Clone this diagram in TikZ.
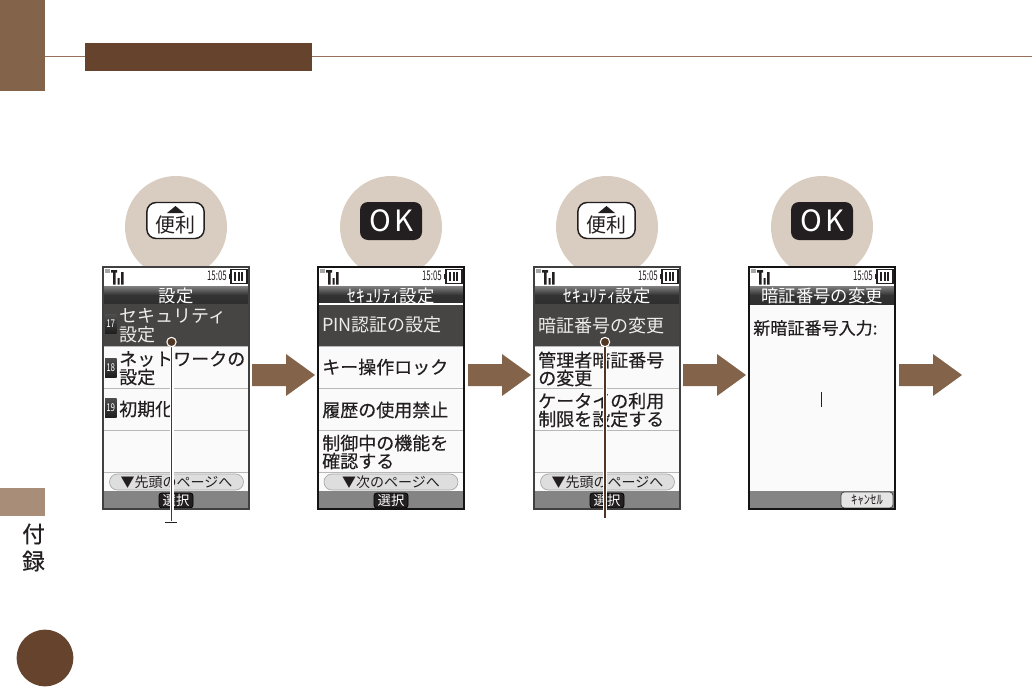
\documentclass[tikz,border=0pt]{standalone}
\usepackage{fontspec}
\usepackage{graphicx}
\setmainfont{Noto Sans CJK JP}
\newfontfamily\cjkm[FakeBold=0.35]{Noto Sans CJK JP}
\newfontfamily\cjkb[FakeBold=0.9]{Noto Sans CJK JP}
\newcommand\pxf[1]{\fontsize{#1}{#1}\selectfont}
\definecolor{tabbrown}{HTML}{836349}
\definecolor{darkbrown}{HTML}{65432D}
\definecolor{lightbrown}{HTML}{A88D78}
\definecolor{rulebrown}{HTML}{96705A}
\definecolor{disc}{HTML}{D9CCC0}
\definecolor{seldark}{HTML}{474543}
\definecolor{softgray}{HTML}{848484}
\definecolor{inktext}{HTML}{231F20}
\tikzset{
  rowtext/.style={anchor=west,inner sep=0pt,text=inktext,font=\cjkm\pxf{13.5pt}},
  seltext/.style={anchor=west,inner sep=0pt,text=white!93!black,font=\pxf{13.5pt}},
  titletext/.style={inner sep=0pt,text=white,font=\pxf{13pt}},
  pilltext/.style={inner sep=0pt,text=inktext,font=\pxf{10.5pt}},
  softbtn/.style={draw=black,fill=inktext,rounded corners=2pt,line width=.5pt,inner sep=0pt,minimum height=11.2pt,text=white,font=\pxf{10pt}},
  keydisc/.style={circle,fill=disc,inner sep=0pt,minimum size=76.5pt},
  flowarrow/.style={fill=tabbrown},
  leadhalo/.style={draw=white,line width=3pt},
  leadline/.style={draw=darkbrown!80!black,line width=1.1pt},
  leaddot/.style={circle,fill=darkbrown!80!black,draw=white,line width=.8pt,inner sep=0pt,minimum size=7pt},
}
% id, left x, title, title style, frame colour
\newcommand\phonescreen[5]{%
  \begin{scope}[shift={(#2,0)}]
    \fill[white!98!black] (0,266) rectangle (148,510);
    \fill[white] (0,266) rectangle (148,286);
    \shade[top color=black!50,bottom color=black!82,middle color=black!80] (1,286) rectangle (147,304);
    \fill[softgray] (0,491) rectangle (148,510);
    % status bar
    \fill[black!35] (3,269) rectangle (8,273);
    \fill[inktext] (9,270) rectangle (15,272.5) (11,270) rectangle (13.5,284.5) (15.5,278) rectangle (17.5,284.5) (19,272) rectangle (21.5,284.5);
    \node[inner sep=0pt,anchor=east,text=inktext,font=\pxf{9.5pt}] (#1clock) at (125,276) {\scalebox{.62}[1.05]{15:05}};
    \fill[inktext] (126.5,274) rectangle (128,279);
    \draw[inktext,line width=1pt] (129,269.5) rectangle (145,283.5);
    \foreach \bx in {132,135.5,139}{\fill[inktext] (\bx,272) rectangle (\bx+2,281);}
    \node[#4] (#1title) at (74,295.5) {#3};
  \end{scope}}
\newcommand\phoneframe[2]{%
  \draw[#2,line width=1.5pt] (#1+1,267) rectangle (#1+147,509);}
\newcommand\phonepill[3]{% id, left x, text
  \node[draw=black!35,fill=black!13,rounded corners=6pt,line width=.5pt,minimum width=100.5pt,minimum height=12pt,inner sep=0pt] (#1) at (#2+74.5,482) {};
  \node[pilltext] (#1text) at (#1) {#3};}
\newcommand\phonerows[2]{% left x, number of separators (always 4)
  \foreach \sy in {346,388,430,472}{\draw[black!28,line width=.6pt] (#1+1,\sy) -- (#1+147,\sy);}}
\newcommand\numbadge[3]{% name, y, num
  \shade[top color=black!70,bottom color=black!88] (105,#2-9.5) rectangle (116.5,#2+9.5);
  \node[inner sep=0pt,text=white,font=\pxf{8pt}] (#1) at (110.7,#2) {\scalebox{.75}[1]{#3}};}
\newcommand\flowarrowshape[1]{% left x
  \fill[flowarrow] (#1,364) -- (#1+34,364) -- (#1+34,354) -- (#1+63,375) -- (#1+34,396) -- (#1+34,386) -- (#1,386) -- cycle;}
\begin{document}
\begin{tikzpicture}[x=.75pt,y=-.75pt]
\useasboundingbox (0,0) rectangle (1032,686);
% page furniture
\fill[tabbrown] (0,0) rectangle (45,91);
\draw[rulebrown,line width=.6pt] (45,56.5) -- (1032,56.5);
\fill[darkbrown] (85,43) rectangle (312,71);
\fill[lightbrown] (0,488) rectangle (45,516);
\node[inner sep=0pt,text=inktext,font=\cjkm\pxf{17pt}] (tabA) at (33.5,534) {付};
\node[inner sep=0pt,text=inktext,font=\cjkm\pxf{17pt}] (tabB) at (33.5,561) {録};
\node[circle,fill=darkbrown,minimum size=42.5pt,inner sep=0pt] (pagedisc) at (45,658) {};
% discs
\node[keydisc] (d1) at (176,227) {};
\node[keydisc] (d2) at (391,227) {};
\node[keydisc] (d3) at (607,227) {};
\node[keydisc] (d4) at (822,227) {};
% keys
\foreach \n/\cx in {k1/175.5,k3/606.5}{
  \node[draw=inktext,fill=white,line width=1.1pt,rounded corners=7pt,minimum width=43pt,minimum height=27pt,inner sep=0pt] (\n) at (\cx,220.5) {};
  \node[inner sep=0pt,text=inktext,font=\pxf{15pt}] (\n t) at (\cx,225) {便利};
  \fill[inktext] (\cx-8.5,213) -- (\cx+8.5,213) -- (\cx,206) -- cycle;
}
\foreach \n/\cx in {k2/391,k4/822}{
  \node[fill=inktext,rounded corners=6pt,minimum width=46.5pt,minimum height=28.5pt,inner sep=0pt,text=white,font=\pxf{22pt}] (\n) at (\cx,221) {\hspace{.5pt}O\hspace{2pt}K};
}
% screens
\phonescreen{a}{102}{設定}{titletext}{}
\phonescreen{b}{317}{ｾｷｭﾘﾃｨ設定}{titletext}{}
\phonescreen{c}{533}{ｾｷｭﾘﾃｨ設定}{titletext}{}
\phonescreen{e}{748}{暗証番号の変更}{titletext}{}
% screen A
\fill[seldark] (103,304) rectangle (249,346);
\phonerows{102}{4}
\numbadge{a17}{324}{17}
\numbadge{a18}{367.5}{18}
\numbadge{a19}{408}{19}
\node[seltext] (a1) at (119,316) {セキュリティ};
\node[seltext] (a2) at (119,335) {設定};
\node[rowtext] (a3) at (119,359) {ネットワークの};
\node[rowtext] (a4) at (119,377) {設定};
\node[rowtext] (a5) at (119,409) {初期化};
\phonepill{ap}{102}{▼先頭のページへ}
\node[softbtn,minimum width=25.5pt] (as) at (176,500.5) {選択};
\phoneframe{102}{black!75}
% screen B
\fill[seldark] (318,304) rectangle (464,346);
\draw[white,line width=.8pt] (318,304) -- (464,304);
\phonerows{317}{4}
\node[seltext] (b1) at (322,325) {PIN認証の設定};
\node[rowtext] (b2) at (322,367) {キー操作ロック};
\node[rowtext] (b3) at (322,410) {履歴の使用禁止};
\node[rowtext] (b4) at (322,443) {制御中の機能を};
\node[rowtext] (b5) at (322,461) {確認する};
\phonepill{bp}{316.5}{▼次のページへ}
\node[softbtn,minimum width=25.5pt] (bs) at (391,500.5) {選択};
\phoneframe{317}{black!92}
% screen C
\fill[seldark] (534,304) rectangle (680,346);
\phonerows{533}{4}
\node[seltext] (c1) at (538,326) {暗証番号の変更};
\node[rowtext] (c2) at (538,360) {管理者暗証番号};
\node[rowtext] (c3) at (538,378) {の変更};
\node[rowtext] (c4) at (538,401) {ケータイの利用};
\node[rowtext] (c5) at (538,419) {制限を設定する};
\phonepill{cp}{533}{▼先頭のページへ}
\node[softbtn,minimum width=25.5pt] (cs) at (607,500.5) {選択};
\phoneframe{533}{black!75}
% screen E
\node[anchor=west,inner sep=0pt,text=inktext,font=\cjkm\pxf{12.8pt}] (e1) at (753,328) {新暗証番号入力:};
\node[fill=inktext,minimum width=1pt,minimum height=11pt,inner sep=0pt] (e2) at (821.5,399.5) {};
\node[draw=black!70,fill=white!90!black,rounded corners=2.5pt,line width=.6pt,minimum width=39pt,minimum height=12pt,inner sep=0pt,text=inktext,font=\pxf{9.5pt}] (es) at (867,500) {ｷｬﾝｾﾙ};
\phoneframe{748}{black!92}
% flow arrows
\flowarrowshape{252}
\flowarrowshape{468}
\flowarrowshape{683}
\flowarrowshape{899}
% leaders
\coordinate (endA) at (171.5,521);
\coordinate (tickL) at (165,522);
\coordinate (tickR) at (177,522);
\coordinate (startA) at (171.5,342);
\coordinate (endC) at (605,518);
\coordinate (startC) at (605,342);
\draw[leadhalo] (startA) -- (171.5,510);
\draw[leadline] (startA) -- (endA);
\draw[inktext,line width=.5pt] (tickL) -- (tickR);
\node[leaddot] (dotA) at (startA) {};
\draw[leadhalo] (startC) -- (605,510);
\draw[leadline] (startC) -- (endC);
\node[leaddot] (dotC) at (startC) {};
\end{tikzpicture}
\end{document}
